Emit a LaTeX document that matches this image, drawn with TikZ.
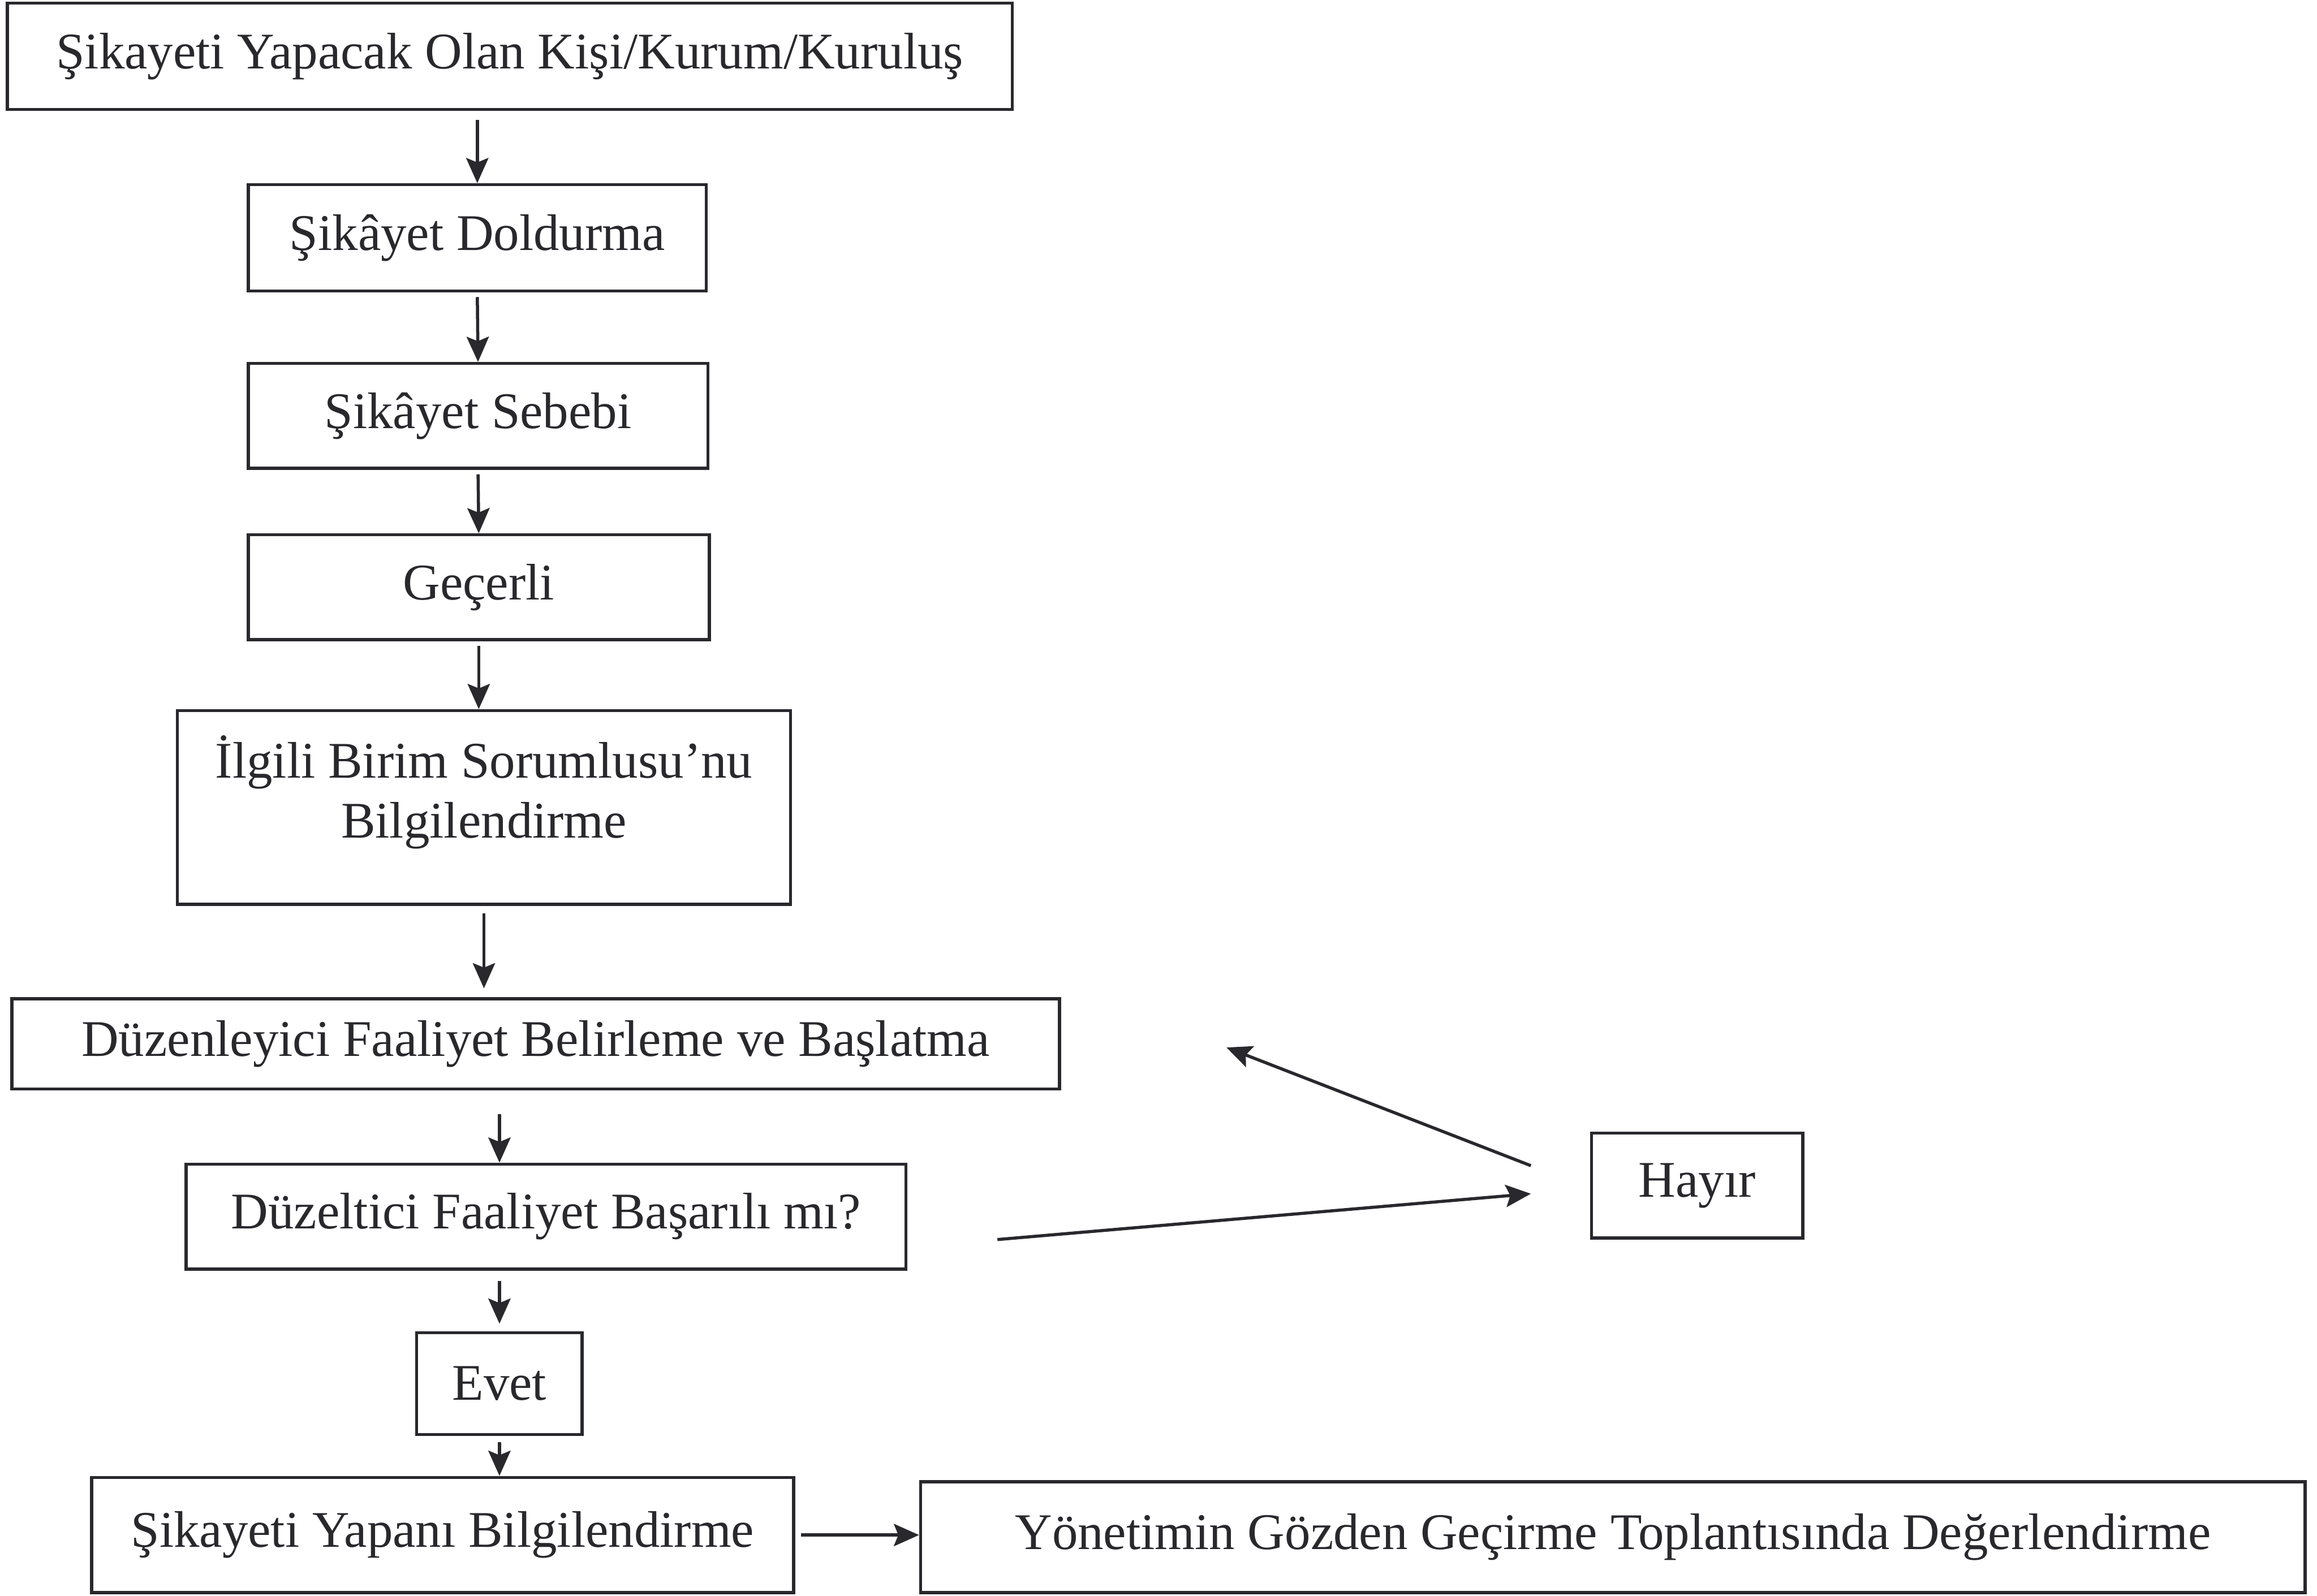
\documentclass[tikz,border=0pt]{standalone}
\usepackage{fontspec}
\setmainfont{Liberation Serif}
\usetikzlibrary{arrows.meta}
\usetikzlibrary{calc}
\usetikzlibrary{positioning}
\definecolor{ink}{RGB}{40,40,45}

\begin{document}
\begin{tikzpicture}[x=0.1mm, y=-0.1mm, >={Stealth[length=1.7mm, width=1.5mm, inset=0.3mm]}, line width=0.6pt, draw=ink, text=ink,
    box/.style={draw, inner sep=0pt, align=center, font=\fontsize{9.9}{11.6}\selectfont}]
  \useasboundingbox (0,0) rectangle (1568,1080);
  \node[box, minimum width=68mm, minimum height=7.2mm] (kisi) at (345,38) {Şikayeti Yapacak Olan Kişi/Kurum/Kuruluş};
  \node[box, minimum width=31mm, minimum height=7.2mm] (doldurma) at (323,161) {Şikâyet Doldurma};
  \node[box, minimum width=31.1mm, minimum height=7.1mm] (sebep) at (323.5,281.5) {Şikâyet Sebebi};
  \node[box, minimum width=31.2mm, minimum height=7.1mm] (gecerli) at (324,397.5) {Geçerli};
  \node[box, minimum width=41.5mm, minimum height=13.1mm, text depth=8pt] (birim) at (327.5,546.5) {İlgili Birim Sorumlusu’nu\\Bilgilendirme};
  \node[box, minimum width=70.9mm, minimum height=6.1mm] (baslatma) at (362.5,706.5) {Düzenleyici Faaliyet Belirleme ve Başlatma};
  \node[box, minimum width=48.7mm, minimum height=7.1mm] (basarili) at (369.5,823.5) {Düzeltici Faaliyet Başarılı mı?};
  \node[box, minimum width=14.3mm, minimum height=7.1mm] (hayir) at (1148.5,802.5) {Hayır};
  \node[box, minimum width=11.2mm, minimum height=6.9mm] (evet) at (338,936.5) {Evet};
  \node[box, minimum width=47.5mm, minimum height=7.8mm] (bilgi) at (299.5,1039) {Şikayeti Yapanı Bilgilendirme};
  \node[box, minimum width=93.7mm, minimum height=7.5mm] (toplanti) at (1091.5,1040.5) {Yönetimin Gözden Geçirme Toplantısında Değerlendirme};
  \coordinate (basarilicikis) at (675,839);
  \coordinate (hayirgiris) at (1036,808);
  \coordinate (hayircikis) at (1036,789);
  \coordinate (donus) at (830,709);
  \draw[->, shorten <=0.6mm] (kisi.south -| doldurma.north) -- (doldurma.north);
  \draw[->, shorten <=0.3mm] (doldurma.south) -- (sebep.north);
  \draw[->, shorten <=0.3mm] (sebep.south) -- (gecerli.north);
  \draw[->, shorten <=0.3mm] (gecerli.south) -- (gecerli.south |- birim.north);
  \draw[->, shorten <=0.5mm, shorten >=0.6mm] (birim.south) -- (birim.south |- baslatma.north);
  \draw[->, shorten <=1.6mm] (baslatma.south -| evet.north) -- (evet.north |- basarili.north);
  \draw[->, shorten <=0.7mm, shorten >=0.5mm] (basarili.south -| evet.north) -- (evet.north);
  \draw[->, shorten <=0.4mm] (evet.south) -- (evet.south |- bilgi.north);
  \draw[->, shorten <=0.4mm] (bilgi.east) -- (bilgi.east -| toplanti.west);
  \draw[->] (basarilicikis) -- (hayirgiris);
  \draw[->] (hayircikis) -- (donus);
\end{tikzpicture}
\end{document}
